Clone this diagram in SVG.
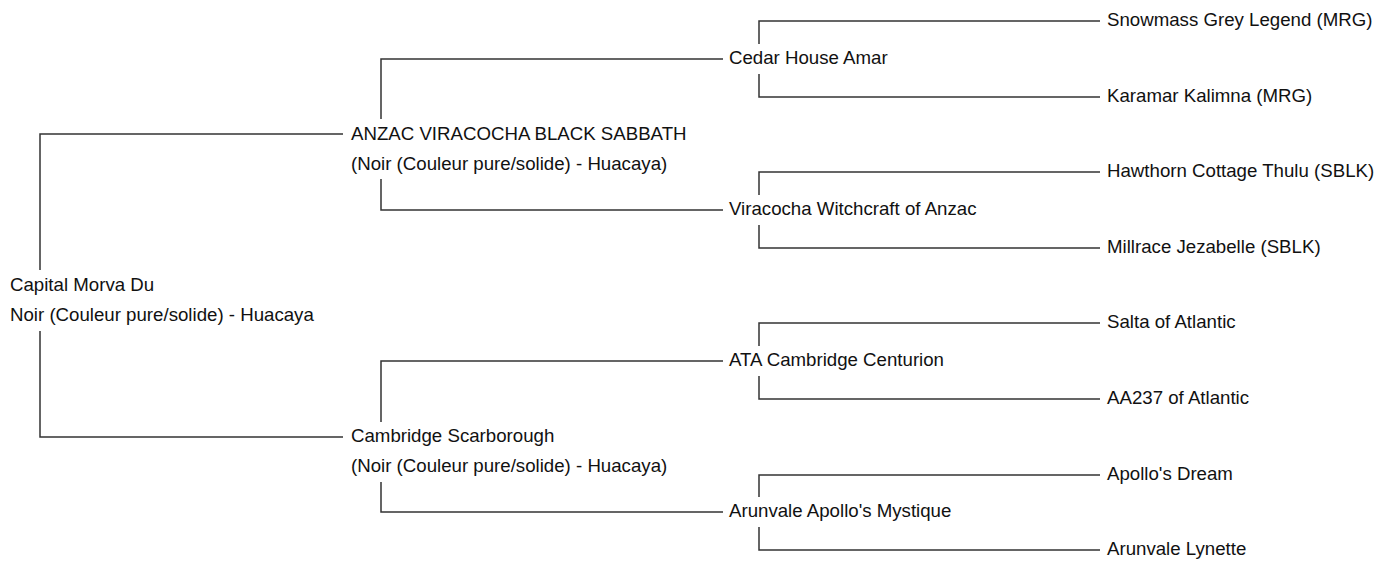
<svg xmlns="http://www.w3.org/2000/svg" width="1383" height="561" viewBox="0 0 1383 561">
<style>
.c{fill:none;stroke:#333;stroke-width:1.5}
text{font-family:"Liberation Sans",Arial,sans-serif;font-size:18.67px;fill:#111}
</style>
<rect width="1383" height="561" fill="#fff"/>
<g id="connectors">
<path class="c" d="M343,134 H40 V270 M40,331 V437 H343"/>
<path class="c" d="M723,59 H381 V119 M381,179 V210 H723"/>
<path class="c" d="M723,361 H381 V422 M381,482 V512 H723"/>
<path class="c" d="M1100,21 H759 V44 M759,74 V97 H1100"/>
<path class="c" d="M1100,172 H759 V195 M759,225 V248 H1100"/>
<path class="c" d="M1100,323 H759 V346 M759,376 V399 H1100"/>
<path class="c" d="M1100,475 H759 V497 M759,527 V550 H1100"/>
</g>
<g id="root"><text x="10" y="291">Capital Morva Du</text><text x="10" y="321">Noir (Couleur pure/solide) - Huacaya</text></g>
<g id="sire"><text x="351" y="140">ANZAC VIRACOCHA BLACK SABBATH</text><text x="351" y="170">(Noir (Couleur pure/solide) - Huacaya)</text></g>
<g id="dam"><text x="351" y="442">Cambridge Scarborough</text><text x="351" y="472">(Noir (Couleur pure/solide) - Huacaya)</text></g>
<g id="ss"><text x="729" y="64">Cedar House Amar</text></g>
<g id="sd"><text x="729" y="215">Viracocha Witchcraft of Anzac</text></g>
<g id="ds"><text x="729" y="366">ATA Cambridge Centurion</text></g>
<g id="dd"><text x="729" y="517">Arunvale Apollo's Mystique</text></g>
<g id="sss"><text x="1107" y="26">Snowmass Grey Legend (MRG)</text></g>
<g id="ssd"><text x="1107" y="102">Karamar Kalimna (MRG)</text></g>
<g id="sds"><text x="1107" y="177">Hawthorn Cottage Thulu (SBLK)</text></g>
<g id="sdd"><text x="1107" y="253">Millrace Jezabelle (SBLK)</text></g>
<g id="dss"><text x="1107" y="328">Salta of Atlantic</text></g>
<g id="dsd"><text x="1107" y="404">AA237 of Atlantic</text></g>
<g id="dds"><text x="1107" y="480">Apollo's Dream</text></g>
<g id="ddd"><text x="1107" y="555">Arunvale Lynette</text></g>
</svg>
